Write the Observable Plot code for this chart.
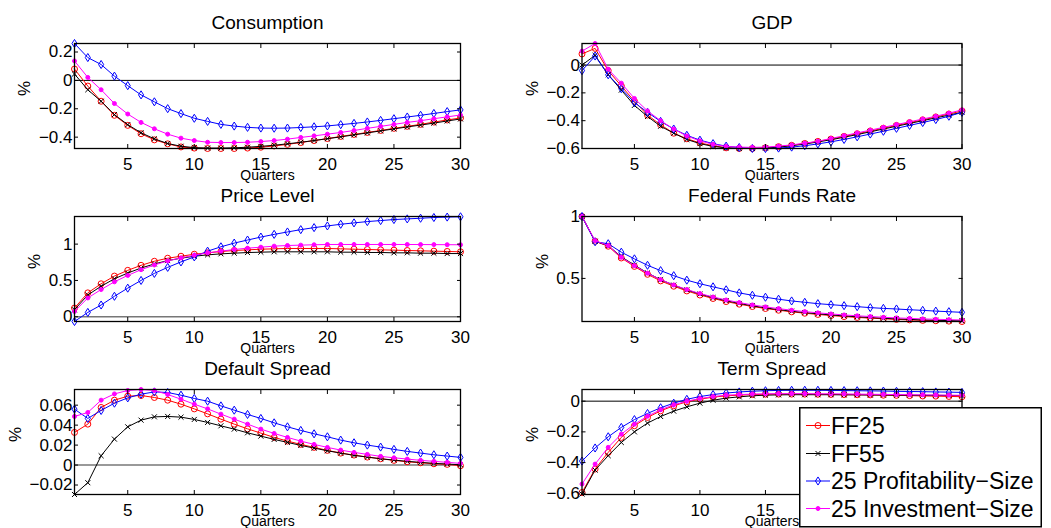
<!DOCTYPE html>
<html>
<head>
<meta charset="utf-8">
<script src="https://cdn.jsdelivr.net/npm/d3@7"></script>
<script src="https://cdn.jsdelivr.net/npm/@observablehq/plot@0.6"></script>
<style>
  html, body { margin: 0; padding: 0; background: #fff; width: 1051px; height: 528px; overflow: hidden; }
  #chart { position: relative; width: 1051px; height: 528px; font-family: "Liberation Sans", Arial, Helvetica, sans-serif; }
  #chart > svg { position: absolute; }
</style>
</head>
<body>
<div id="chart"></div>
<script>
// Impulse responses (in %) over 30 quarters, four test-asset sets
const quarters = d3.range(1, 31);
const xTicks = [5, 10, 15, 20, 25, 30];
const seriesNames = ["FF25", "FF55", "25 Profitability\u2212Size", "25 Investment\u2212Size"];

// Consumption
const consFF25 = [0.08, -0.04, -0.147, -0.246, -0.317, -0.376, -0.419, -0.447, -0.469, -0.477, -0.48, -0.48, -0.48, -0.477, -0.471, -0.462, -0.451, -0.438, -0.424, -0.41, -0.395, -0.381, -0.367, -0.353, -0.338, -0.324, -0.31, -0.294, -0.279, -0.265];
const consFF55 = [0.045, -0.066, -0.147, -0.241, -0.312, -0.369, -0.412, -0.445, -0.464, -0.474, -0.477, -0.477, -0.475, -0.471, -0.465, -0.457, -0.447, -0.436, -0.424, -0.411, -0.398, -0.384, -0.37, -0.356, -0.342, -0.328, -0.315, -0.301, -0.286, -0.272];
const consProf = [0.26, 0.161, 0.112, 0.03, -0.037, -0.102, -0.151, -0.199, -0.234, -0.267, -0.289, -0.31, -0.322, -0.331, -0.336, -0.337, -0.336, -0.332, -0.327, -0.321, -0.312, -0.303, -0.293, -0.282, -0.27, -0.258, -0.246, -0.233, -0.22, -0.208];
const consInv = [0.137, 0.021, -0.066, -0.163, -0.237, -0.296, -0.341, -0.379, -0.407, -0.424, -0.436, -0.438, -0.438, -0.436, -0.431, -0.424, -0.414, -0.402, -0.391, -0.379, -0.367, -0.353, -0.338, -0.324, -0.31, -0.296, -0.284, -0.27, -0.257, -0.244];

// GDP
const gdpFF25 = [0.08, 0.12, -0.04, -0.15, -0.26, -0.36, -0.43, -0.49, -0.53, -0.56, -0.58, -0.595, -0.6, -0.6, -0.595, -0.587, -0.577, -0.564, -0.549, -0.532, -0.513, -0.494, -0.474, -0.454, -0.434, -0.414, -0.394, -0.373, -0.352, -0.33];
const gdpFF55 = [0.0, 0.07, -0.07, -0.18, -0.29, -0.37, -0.44, -0.49, -0.535, -0.565, -0.585, -0.595, -0.6, -0.6, -0.597, -0.59, -0.58, -0.568, -0.553, -0.537, -0.519, -0.5, -0.48, -0.46, -0.44, -0.42, -0.4, -0.38, -0.36, -0.34];
const gdpProf = [-0.04, 0.065, -0.07, -0.17, -0.27, -0.34, -0.405, -0.46, -0.505, -0.54, -0.565, -0.583, -0.593, -0.6, -0.6, -0.597, -0.59, -0.58, -0.567, -0.552, -0.535, -0.516, -0.496, -0.476, -0.455, -0.434, -0.413, -0.392, -0.368, -0.34];
const gdpInv = [0.1, 0.155, -0.03, -0.13, -0.24, -0.33, -0.4, -0.46, -0.51, -0.545, -0.57, -0.585, -0.59, -0.592, -0.59, -0.583, -0.574, -0.562, -0.548, -0.528, -0.508, -0.488, -0.468, -0.448, -0.428, -0.408, -0.388, -0.368, -0.346, -0.322];

// Price level
const priceFF25 = [0.12, 0.329, 0.454, 0.56, 0.639, 0.708, 0.764, 0.806, 0.833, 0.861, 0.88, 0.898, 0.912, 0.921, 0.93, 0.935, 0.94, 0.94, 0.94, 0.94, 0.935, 0.93, 0.926, 0.921, 0.917, 0.912, 0.908, 0.903, 0.899, 0.894];
const priceFF55 = [0.097, 0.3, 0.42, 0.523, 0.602, 0.671, 0.727, 0.773, 0.806, 0.833, 0.852, 0.866, 0.875, 0.884, 0.889, 0.894, 0.894, 0.894, 0.894, 0.894, 0.889, 0.889, 0.885, 0.885, 0.88, 0.88, 0.875, 0.875, 0.87, 0.87];
const priceProf = [-0.065, 0.06, 0.162, 0.282, 0.394, 0.5, 0.597, 0.68, 0.755, 0.824, 0.903, 0.963, 1.014, 1.056, 1.097, 1.134, 1.167, 1.199, 1.227, 1.25, 1.273, 1.292, 1.31, 1.324, 1.338, 1.347, 1.356, 1.366, 1.372, 1.376];
const priceInv = [0.074, 0.259, 0.375, 0.481, 0.569, 0.648, 0.713, 0.769, 0.81, 0.847, 0.88, 0.903, 0.926, 0.944, 0.958, 0.972, 0.981, 0.986, 0.991, 0.995, 0.995, 0.995, 0.995, 0.995, 0.995, 0.995, 0.994, 0.993, 0.992, 0.991];

// Federal funds rate
const ffrFF25 = [1.0, 0.8, 0.76, 0.665, 0.597, 0.533, 0.48, 0.437, 0.399, 0.366, 0.338, 0.313, 0.292, 0.273, 0.257, 0.243, 0.23, 0.219, 0.209, 0.2, 0.192, 0.185, 0.179, 0.174, 0.169, 0.165, 0.161, 0.158, 0.155, 0.152];
const ffrFF55 = [1.0, 0.8, 0.765, 0.675, 0.607, 0.544, 0.49, 0.446, 0.407, 0.374, 0.345, 0.32, 0.298, 0.279, 0.262, 0.248, 0.235, 0.224, 0.214, 0.205, 0.197, 0.19, 0.184, 0.178, 0.173, 0.169, 0.165, 0.162, 0.159, 0.157];
const ffrProf = [1.0, 0.796, 0.78, 0.712, 0.658, 0.606, 0.563, 0.522, 0.486, 0.457, 0.432, 0.408, 0.383, 0.364, 0.348, 0.332, 0.318, 0.307, 0.296, 0.288, 0.28, 0.272, 0.264, 0.258, 0.253, 0.247, 0.242, 0.236, 0.231, 0.226];
const ffrInv = [1.0, 0.805, 0.765, 0.67, 0.603, 0.542, 0.49, 0.447, 0.41, 0.378, 0.35, 0.326, 0.305, 0.286, 0.27, 0.256, 0.243, 0.232, 0.222, 0.213, 0.205, 0.198, 0.192, 0.186, 0.181, 0.177, 0.173, 0.17, 0.167, 0.164];

// Default spread
const defFF25 = [0.0327, 0.041, 0.0577, 0.065, 0.069, 0.0697, 0.0677, 0.065, 0.061, 0.0563, 0.0513, 0.046, 0.041, 0.0363, 0.032, 0.0277, 0.024, 0.0207, 0.0177, 0.0147, 0.012, 0.01, 0.008, 0.0063, 0.0047, 0.0033, 0.0023, 0.0013, 0.0007, -0.0007];
const defFF55 = [-0.0295, -0.0177, 0.0093, 0.026, 0.0383, 0.045, 0.0483, 0.0487, 0.048, 0.0457, 0.0427, 0.0393, 0.036, 0.0323, 0.029, 0.0257, 0.0227, 0.0197, 0.017, 0.0143, 0.012, 0.0097, 0.008, 0.0063, 0.005, 0.0037, 0.0027, 0.0017, 0.001, 0.0003];
const defProf = [0.056, 0.0467, 0.0547, 0.062, 0.0673, 0.071, 0.0733, 0.0727, 0.07, 0.0667, 0.064, 0.0593, 0.055, 0.0507, 0.0467, 0.0423, 0.0383, 0.0347, 0.0313, 0.0283, 0.025, 0.0223, 0.02, 0.018, 0.0157, 0.0137, 0.012, 0.0103, 0.009, 0.0077];
const defInv = [0.0487, 0.0527, 0.065, 0.0713, 0.0747, 0.0757, 0.0747, 0.0707, 0.066, 0.061, 0.0563, 0.051, 0.046, 0.041, 0.036, 0.0317, 0.0277, 0.024, 0.0207, 0.0177, 0.015, 0.0127, 0.0107, 0.0087, 0.0073, 0.006, 0.0047, 0.0037, 0.0027, 0.0017];

// Term spread
const termFF25 = [-0.595, -0.442, -0.334, -0.236, -0.16, -0.106, -0.063, -0.03, -0.004, 0.013, 0.026, 0.035, 0.039, 0.043, 0.045, 0.046, 0.046, 0.046, 0.045, 0.044, 0.043, 0.042, 0.041, 0.039, 0.038, 0.036, 0.034, 0.033, 0.031, 0.029];
const termFF55 = [-0.605, -0.449, -0.355, -0.269, -0.2, -0.143, -0.1, -0.065, -0.037, -0.013, 0.006, 0.02, 0.028, 0.035, 0.039, 0.041, 0.042, 0.042, 0.042, 0.042, 0.041, 0.041, 0.04, 0.04, 0.039, 0.039, 0.038, 0.038, 0.037, 0.037];
const termProf = [-0.39, -0.305, -0.232, -0.171, -0.12, -0.08, -0.043, -0.013, 0.012, 0.03, 0.043, 0.053, 0.06, 0.065, 0.068, 0.07, 0.071, 0.071, 0.071, 0.07, 0.069, 0.068, 0.067, 0.066, 0.064, 0.063, 0.062, 0.06, 0.059, 0.057];
const termInv = [-0.54, -0.41, -0.301, -0.215, -0.15, -0.098, -0.056, -0.024, 0.0, 0.017, 0.03, 0.039, 0.043, 0.046, 0.048, 0.049, 0.049, 0.049, 0.048, 0.048, 0.047, 0.046, 0.045, 0.044, 0.043, 0.042, 0.041, 0.04, 0.039, 0.038];

// Tall, narrow diamond marker
const tallDiamond = {
  draw(context, size) {
    const r = Math.sqrt(size / Math.PI);
    context.moveTo(0, -r * 1.35);
    context.lineTo(r * 0.85, 0);
    context.lineTo(0, r * 1.35);
    context.lineTo(-r * 0.85, 0);
    context.closePath();
  }
};

const seriesStyles = [
  {color: "#ff0000", symbol: "circle", r: 3, fill: "none"},
  {color: "#000000", symbol: "times", r: 2.4, fill: "none"},
  {color: "#0000ff", symbol: tallDiamond, r: 3, fill: "none"},
  {color: "#ff00ff", symbol: "circle", r: 2, fill: "#ff00ff"}
];

// labelMax: highest quarter whose tick label is left uncovered by the legend
const panels = [
  {title: "Consumption", values: [consFF25, consFF55, consProf, consInv], domain: [-0.48, 0.26], ticks: [-0.4, -0.2, 0, 0.2], left: 0, top: 0, zero: {stroke: "#000", width: 1}, pct: 50, labelMax: 30},
  {title: "GDP", values: [gdpFF25, gdpFF55, gdpProf, gdpInv], domain: [-0.6, 0.155], ticks: [-0.6, -0.4, -0.2, 0], left: 520, top: 0, zero: {stroke: "#000", width: 1}, pct: 49, labelMax: 30},
  {title: "Price Level", values: [priceFF25, priceFF55, priceProf, priceInv], domain: [-0.065, 1.38], ticks: [0, 0.5, 1], left: 0, top: 173, zero: {stroke: "#777", width: 1.6}, pct: 40, labelMax: 30},
  {title: "Federal Funds Rate", values: [ffrFF25, ffrFF55, ffrProf, ffrInv], domain: [0.152, 1], ticks: [0.5, 1], left: 520, top: 173, zero: null, pct: 39, labelMax: 30},
  {title: "Default Spread", values: [defFF25, defFF55, defProf, defInv], domain: [-0.0295, 0.0757], ticks: [-0.02, 0, 0.02, 0.04, 0.06], left: 0, top: 346, zero: {stroke: "#777", width: 1.4}, pct: 59, labelMax: 30},
  {title: "Term Spread", values: [termFF25, termFF55, termProf, termInv], domain: [-0.608, 0.076], ticks: [-0.6, -0.4, -0.2, 0], left: 520, top: 346, zero: {stroke: "#000", width: 1}, pct: 49, labelMax: 15}
];

const chart = document.getElementById("chart");

for (const p of panels) {
  const isLeft = p.left === 0;
  const width = isLeft ? 520 : 531;
  const marginLeft = isLeft ? 74 : 61.5;
  const marginRight = isLeft ? 60 : 89.5;
  const marks = [];
  if (p.zero) marks.push(Plot.ruleY([0], {stroke: p.zero.stroke, strokeWidth: p.zero.width}));
  p.values.forEach((vals, s) => {
    const st = seriesStyles[s];
    const data = vals.map((v, i) => ({q: quarters[i], v}));
    marks.push(Plot.line(data, {x: "q", y: "v", stroke: st.color, strokeWidth: 1}));
    marks.push(Plot.dot(data, {x: "q", y: "v", symbol: st.symbol, r: st.r, stroke: st.color, fill: st.fill, strokeWidth: 1}));
  });
  marks.push(
    Plot.frame({stroke: "#000", strokeWidth: 1.3}),
    Plot.axisX({anchor: "bottom", ticks: xTicks, tickSize: -4, tickPadding: 13, tickFormat: d => d <= p.labelMax ? String(d) : "", fontSize: 17, label: null}),
    Plot.axisX({anchor: "top", ticks: xTicks, tickSize: -4, tickFormat: () => "", label: null}),
    Plot.axisY({anchor: "left", ticks: p.ticks, tickSize: -4, tickPadding: 6, tickFormat: d3.format(""), fontSize: 17, label: null}),
    Plot.axisY({anchor: "right", ticks: p.ticks, tickSize: -4, tickFormat: () => "", label: null}),
    Plot.text([p.title], {text: d => d, frameAnchor: "top", dy: -20.5, fontSize: 19, lineAnchor: "middle", fill: "#000"}),
    Plot.text(["Quarters"], {text: d => d, frameAnchor: "bottom", dy: 27, fontSize: 14, lineAnchor: "middle", fill: "#000"}),
    Plot.text(["%"], {text: d => d, frameAnchor: "left", dx: -p.pct, rotate: -90, fontSize: 17, lineAnchor: "middle", fill: "#000"})
  );
  const svg = Plot.plot({
    width,
    height: 190,
    marginTop: 43,
    marginBottom: 42,
    marginLeft,
    marginRight,
    x: {domain: [1, 30]},
    y: {domain: p.domain},
    style: {background: "transparent", overflow: "visible", fontFamily: "'Liberation Sans', Arial, Helvetica, sans-serif", fontSize: "17px", color: "#000"},
    marks
  });
  svg.style.left = p.left + "px";
  svg.style.top = p.top + "px";
  chart.appendChild(svg);
}

// Legend box over the lower-right panel
const legend = d3.select(chart).append("svg")
  .attr("width", 244).attr("height", 121)
  .style("left", "799px").style("top", "407px")
  .style("font-family", "'Liberation Sans', Arial, Helvetica, sans-serif");
legend.append("rect")
  .attr("x", 0.75).attr("y", 0.75).attr("width", 241.5).attr("height", 119)
  .attr("fill", "#fff").attr("stroke", "#000").attr("stroke-width", 1.5);
const rowY = [18.5, 46.5, 74, 101.5];
seriesNames.forEach((name, s) => {
  const st = seriesStyles[s];
  const g = legend.append("g").attr("transform", `translate(0,${rowY[s]})`);
  g.append("line").attr("x1", 7).attr("x2", 31).attr("y1", 0).attr("y2", 0)
    .attr("stroke", st.color).attr("stroke-width", 1);
  const symType = typeof st.symbol === "string" ? (st.symbol === "times" ? d3.symbolTimes : d3.symbolCircle) : st.symbol;
  g.append("path")
    .attr("transform", "translate(19,0)")
    .attr("d", d3.symbol().type(symType).size(st.r * st.r * Math.PI)())
    .attr("fill", st.fill).attr("stroke", st.color).attr("stroke-width", 1);
  g.append("text").attr("x", 32).attr("y", 0).attr("dy", "0.35em")
    .attr("font-size", 23).attr("fill", "#000").text(name);
});
</script>
</body>
</html>
